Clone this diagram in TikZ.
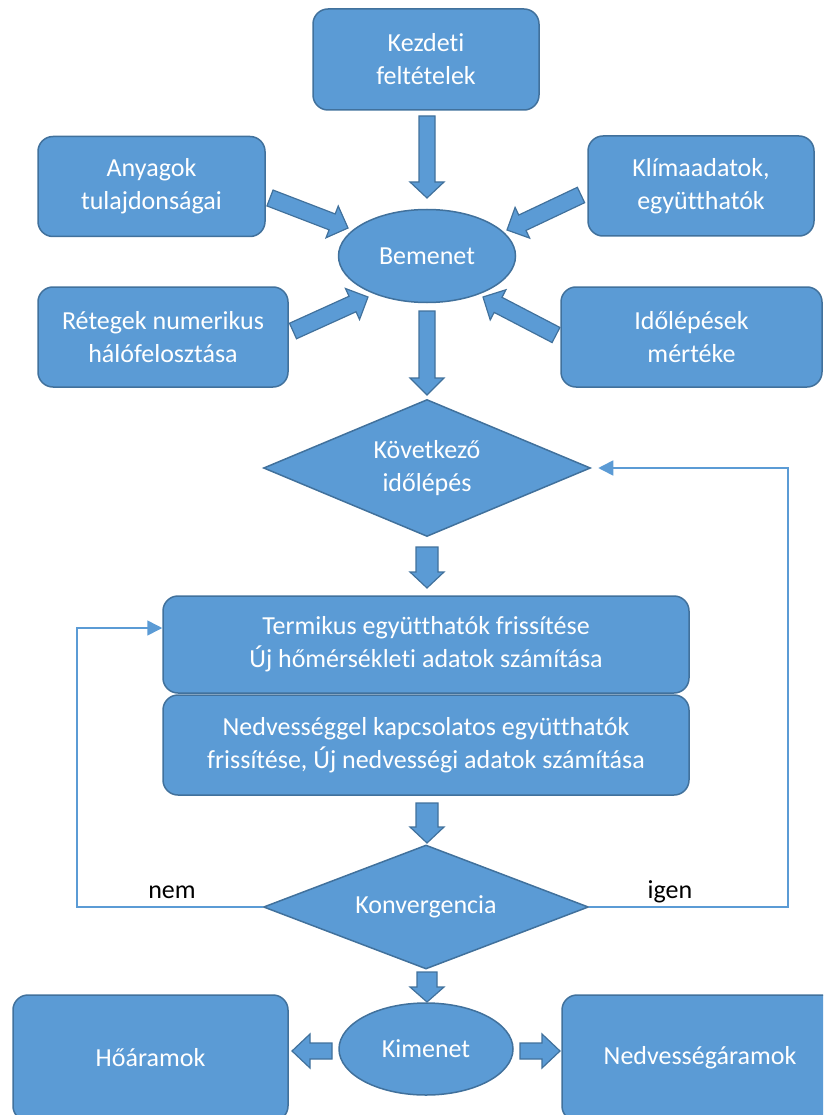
\documentclass[tikz,border=0pt]{standalone}
\usepackage{fontspec}
\setmainfont{Carlito}[Ligatures=NoCommon]
\usetikzlibrary{shapes.geometric,calc,arrows.meta}
\definecolor{fillblue}{HTML}{5B9BD5}
\definecolor{edgeblue}{HTML}{41719C}
\tikzset{
  shapebase/.style={draw=edgeblue, fill=fillblue, line width=1.5pt, text=white, align=center,
    font=\fontsize{26}{33}\selectfont, inner sep=0pt},
  box/.style={shapebase, rounded corners=15pt},
  ell/.style={shapebase, ellipse},
  dia/.style={shapebase, diamond},
  barrowstyle/.style={draw=edgeblue, fill=fillblue, line width=1.2pt, line join=miter},
  loopline/.style={draw=fillblue, line width=1.6pt, -{Triangle[length=15pt,width=15pt]}},
  lbl/.style={text=black, font=\fontsize{26}{33}\selectfont, inner sep=0pt, anchor=base}
}
% block arrow: from, to, half shaft, half head, head length, name
\newcommand{\barrow}[6]{%
  \coordinate (#6h) at ($(#2)!#5!(#1)$);
  \draw[barrowstyle] ($(#1)!#3!90:(#2)$) -- ($(#6h)!#3!-90:(#1)$) -- ($(#6h)!#4!-90:(#1)$)
    -- (#2) -- ($(#6h)!#4!90:(#1)$) -- ($(#6h)!#3!90:(#1)$) -- ($(#1)!#3!-90:(#2)$) -- cycle;}
\begin{document}
\begin{tikzpicture}[x=1pt,y=-1pt]
\useasboundingbox (0,0) rectangle (823,1115);
\clip (0,0) rectangle (823,1115);

% input boxes
\node[box, minimum width=226pt, minimum height=101pt] (kezdeti) at (426,59.5) {Kezdeti\\feltételek};
\node[box, minimum width=227pt, minimum height=100pt] (anyag) at (151.5,186.5) {Anyagok\\tulajdonságai};
\node[box, minimum width=226pt, minimum height=100pt] (klima) at (701,186) {Klímaadatok,\\együtthatók};
\node[box, minimum width=250pt, minimum height=100pt] (retegek) at (163,337) {Rétegek numerikus\\hálófelosztása};
\node[box, minimum width=261pt, minimum height=100pt] (idolep) at (691.5,337) {Időlépések\\mértéke};

\node[ell, minimum width=177pt, minimum height=93pt] (bemenet) at (427,256) {Bemenet};

\node[dia, minimum width=327pt, minimum height=137pt, aspect=2.39] (kovetkezo) at (427,468) {Következő\\időlépés};

\node[box, minimum width=526pt, minimum height=97pt] (termikus) at (426,644.5)
  {Termikus együtthatók frissítése\\Új hőmérsékleti adatok számítása};
\node[box, minimum width=526pt, minimum height=100pt] (nedv) at (426,745)
  {Nedvességgel kapcsolatos együtthatók\\frissítése, Új nedvességi adatok számítása};

\node[dia, minimum width=325pt, minimum height=124pt, aspect=2.62] (konv) at (426,907) {Konvergencia};

\node[ell, minimum width=174pt, minimum height=92pt] (kimenet) at (426,1049) {Kimenet};
\node[box, minimum width=275pt, minimum height=126pt] (hoaram) at (150.5,1058) {Hőáramok};
\node[box, minimum width=276pt, minimum height=126pt] (nedvaram) at (700,1058) {Nedvességáramok};

% block arrow endpoints
\coordinate (a1s) at (427,116);  \coordinate (a1e) at (427,198);
\coordinate (a2s) at (270,198);  \coordinate (a2e) at (348,228);
\coordinate (a3s) at (581,195);  \coordinate (a3e) at (507,230);
\coordinate (a4s) at (293,331);  \coordinate (a4e) at (368,297);
\coordinate (a5s) at (556,335);  \coordinate (a5e) at (483,297);
\coordinate (a6s) at (427,311);  \coordinate (a6e) at (427,395);
\coordinate (a7s) at (427,547);  \coordinate (a7e) at (427,588);
\coordinate (a8s) at (427,803);  \coordinate (a8e) at (427,843);
\coordinate (a9s) at (427,972);  \coordinate (a9e) at (427,1002);
\coordinate (a10s) at (332,1051); \coordinate (a10e) at (292,1051);
\coordinate (a11s) at (520,1051); \coordinate (a11e) at (560,1051);

\barrow{a1s}{a1e}{8pt}{17pt}{16pt}{a1}
\barrow{a2s}{a2e}{8.5pt}{17pt}{17pt}{a2}
\barrow{a3s}{a3e}{8.5pt}{17pt}{17pt}{a3}
\barrow{a4s}{a4e}{8.5pt}{17pt}{17pt}{a4}
\barrow{a5s}{a5e}{8.5pt}{17pt}{17pt}{a5}
\barrow{a6s}{a6e}{8pt}{17pt}{17pt}{a6}
\barrow{a7s}{a7e}{11pt}{17pt}{16pt}{a7}
\barrow{a8s}{a8e}{11pt}{17pt}{16pt}{a8}
\barrow{a9s}{a9e}{10pt}{17pt}{15pt}{a9}
\barrow{a10s}{a10e}{8pt}{17pt}{18pt}{a10}
\barrow{a11s}{a11e}{8pt}{17pt}{18pt}{a11}

% loop lines
\coordinate (lnem) at (77,907);
\coordinate (ligen) at (788,907);
\draw[loopline] (konv.west) -- (lnem) |- ($(termikus.west)+(0,-16.5)$);
\draw[loopline, shorten >=7pt] (konv.east) -- (ligen) |- (kovetkezo.east);

\node[lbl] (nem) at (172,898) {nem};
\node[lbl] (igen) at (670,898) {igen};
\end{tikzpicture}
\end{document}
